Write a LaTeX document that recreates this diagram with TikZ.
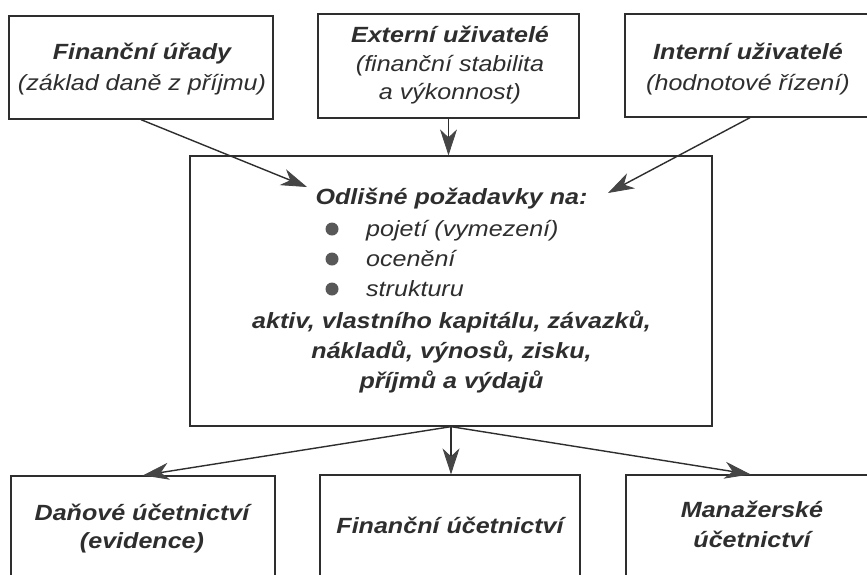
\documentclass[tikz,border=0pt]{standalone}
\usepackage{fontspec}
\setmainfont{Liberation Sans}[FakeStretch=1.14]
\usetikzlibrary{arrows.meta}
\definecolor{ink}{HTML}{2E2E2E}
\definecolor{headgray}{HTML}{454545}
\definecolor{dotgray}{HTML}{585858}
\newcommand{\dgfont}{\fontsize{22}{30}\selectfont}
\begin{document}
\begin{tikzpicture}[x=1pt,y=-1pt,
  box/.style={draw=ink,line width=1.3pt,inner sep=0pt},
  txt/.style={text=ink,inner sep=0pt,anchor=base,font=\dgfont\itshape},
  btxt/.style={text=ink,inner sep=0pt,anchor=base,font=\dgfont\bfseries\itshape},
  arr/.style={draw=ink,line width=1.4pt,-{Stealth[length=26pt,width=17pt,inset=8pt,color=headgray,line width=0.8pt]}},
  bullet/.style={circle,fill=dotgray,inner sep=0pt,minimum size=13pt}]
\useasboundingbox (0,0) rectangle (867,574);
\clip (0,0) rectangle (867,574);
\fill[white] (0,0) rectangle (867,574);
% boxes
\node[box,minimum width=264pt,minimum height=103pt] (fu) at (141,67.5) {};
\node[box,minimum width=261pt,minimum height=104pt] (eu) at (448.5,66) {};
\node[box,minimum width=250pt,minimum height=103pt] (iu) at (750,65.5) {};
\node[box,minimum width=522pt,minimum height=270pt] (ctr) at (451,291) {};
\node[box,minimum width=264pt,minimum height=144pt] (dan) at (143,548) {};
\node[box,minimum width=260pt,minimum height=145pt] (fin) at (450,547.5) {};
\node[box,minimum width=249pt,minimum height=145pt] (man) at (750.5,547.5) {};
% top texts
\node[btxt] (fu1) at (142,59) {Finanční úřady};
\node[txt]  (fu2) at (142,90) {(základ daně z příjmu)};
\node[btxt] (eu1) at (450,42) {Externí uživatelé};
\node[txt]  (eu2) at (450,71) {(finanční stabilita};
\node[txt]  (eu3) at (450,99) {a výkonnost)};
\node[btxt] (iu1) at (748,59) {Interní uživatelé};
\node[txt]  (iu2) at (748,90) {(hodnotové řízení)};
% central texts
\node[btxt] (c1) at (451.5,204) {Odlišné požadavky na:};
\node[bullet] (b1) at (332,229) {};
\node[bullet] (b2) at (332,259) {};
\node[bullet] (b3) at (332,289) {};
\node[txt,anchor=base west] (c2) at (366,236) {pojetí (vymezení)};
\node[txt,anchor=base west] (c3) at (366,266) {ocenění};
\node[txt,anchor=base west] (c4) at (366,296) {strukturu};
\node[btxt] (c5) at (451.5,328) {aktiv, vlastního kapitálu, závazků,};
\node[btxt] (c6) at (451.5,358) {nákladů, výnosů, zisku,};
\node[btxt] (c7) at (451.5,388) {příjmů a výdajů};
% bottom texts
\node[btxt] (d1) at (142,520) {Daňové účetnictví};
\node[btxt] (d2) at (142,548) {(evidence)};
\node[btxt] (f1) at (450,533) {Finanční účetnictví};
\node[btxt] (m1) at (752,517) {Manažerské};
\node[btxt] (m2) at (752,547) {účetnictví};
% arrows
\coordinate (tipL) at (307,187);
\coordinate (tipR) at (608,193);
\draw[arr] (fu.south) -- (tipL);
\draw[arr] (eu.south) -- (eu.south |- ctr.north);
\draw[arr] (iu.south) -- (tipR);
\draw[arr] (ctr.south) -- (dan.north);
\draw[arr] (ctr.south) -- (ctr.south |- fin.north);
\draw[arr] (ctr.south) -- (man.north);
\end{tikzpicture}
\end{document}
